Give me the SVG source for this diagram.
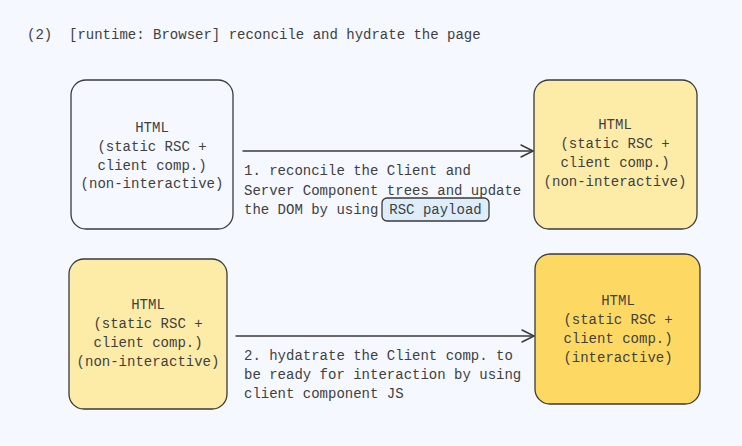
<svg xmlns="http://www.w3.org/2000/svg" width="742" height="446" viewBox="0 0 742 446">
<defs>
<style>
text{font-family:"Liberation Mono","DejaVu Sans Mono",monospace;font-size:14px;fill:#3f3f3f;}
.c{text-anchor:middle;}
.box{stroke:#3a3a3a;stroke-width:1.3;}
.con{fill:none;stroke:#3a3a3a;stroke-width:1.4;stroke-linecap:round;stroke-linejoin:round;}
</style>
</defs>
<rect width="742" height="446" fill="#f5f8fe"/>
<text x="27" y="39" xml:space="preserve" style="white-space:pre">(2)  [runtime: Browser] reconcile and hydrate the page</text>

<g id="connectors">
  <g id="arrow1">
    <path class="con" d="M243 151 L533 151"/>
    <path class="con" d="M521 145 L533 151 L521 157"/>
  </g>
  <g id="arrow2">
    <path class="con" d="M236 336 L534 336"/>
    <path class="con" d="M522 330 L534 336 L522 342"/>
  </g>
</g>

<g id="label1">
  <text x="244" y="175">1. reconcile the Client and</text>
  <text x="244" y="195">Server Component trees and update</text>
  <text x="244" y="214">the DOM by using</text>
  <g id="rsc-payload">
    <rect x="382" y="198" width="107" height="23" rx="5" fill="#ddeefa" class="box"/>
    <text x="435.5" y="214" class="c">RSC payload</text>
  </g>
</g>

<g id="label2">
  <text x="244" y="360">2. hydatrate the Client comp. to</text>
  <text x="244" y="379">be ready for interaction by using</text>
  <text x="244" y="398">client component JS</text>
</g>

<g id="node-html-1">
  <rect x="71" y="80" width="162" height="149" rx="15" fill="none" class="box"/>
  <text x="152" y="132" class="c">HTML</text>
  <text x="152" y="151" class="c">(static RSC +</text>
  <text x="152" y="170" class="c">client comp.)</text>
  <text x="152" y="188" class="c">(non-interactive)</text>
</g>

<g id="node-html-2">
  <rect x="534" y="80" width="163" height="149" rx="15" fill="#fdeca8" class="box"/>
  <text x="615" y="129" class="c">HTML</text>
  <text x="615" y="148" class="c">(static RSC +</text>
  <text x="615" y="167" class="c">client comp.)</text>
  <text x="615" y="186" class="c">(non-interactive)</text>
</g>

<g id="node-html-3">
  <rect x="69" y="259" width="158" height="150" rx="15" fill="#fdeca8" class="box"/>
  <text x="148" y="309" class="c">HTML</text>
  <text x="148" y="328" class="c">(static RSC +</text>
  <text x="148" y="347" class="c">client comp.)</text>
  <text x="148" y="366" class="c">(non-interactive)</text>
</g>

<g id="node-html-4">
  <rect x="535" y="254" width="165" height="150" rx="15" fill="#fdd964" class="box"/>
  <text x="618" y="305" class="c">HTML</text>
  <text x="618" y="324" class="c">(static RSC +</text>
  <text x="618" y="343" class="c">client comp.)</text>
  <text x="618" y="362" class="c">(interactive)</text>
</g>
</svg>
